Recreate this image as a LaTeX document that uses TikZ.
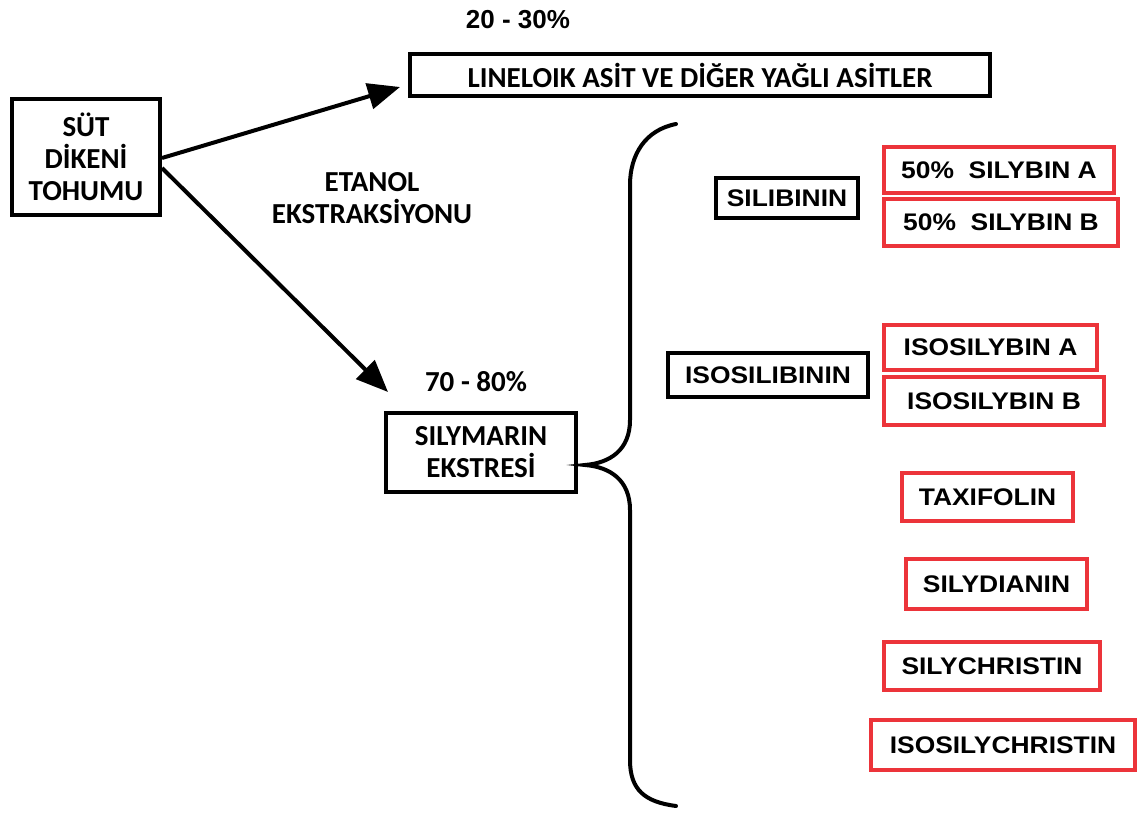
\documentclass[tikz,border=0pt]{standalone}
\usepackage{fontspec}
\usetikzlibrary{arrows.meta}
\newfontfamily\calfont{Carlito}
\newfontfamily\arifont[FakeStretch=1.1]{Liberation Sans}
\newfontfamily\arifontplain{Liberation Sans}
\definecolor{boxred}{RGB}{236,52,58}
\tikzset{
  cal/.style={font=\calfont\bfseries\fontsize{29}{32}\selectfont},
  ari/.style={font=\arifont\bfseries\fontsize{24}{28}\selectfont},
  blackbox/.style={draw=black, line width=4pt, inner sep=0pt, anchor=center},
  redbox/.style={draw=boxred, line width=4.5pt, inner sep=0pt, anchor=center, ari},
  arr/.style={line width=4pt, -{Triangle[length=32pt,width=26pt]}},
}
\begin{document}
\begin{tikzpicture}[x=1pt,y=-1pt]
\useasboundingbox (0,0) rectangle (1138,814);
% left part
\node[blackbox, cal, align=center, minimum width=148pt, minimum height=116pt] (sut) at (86,157) {SÜT\\DİKENİ\\TOHUMU};
\node[blackbox, cal, minimum width=580pt, minimum height=42pt] (lin) at (700,75) {LINELOIK ASİT VE DİĞER YAĞLI ASİTLER};
\node[font=\arifontplain\bfseries\fontsize{26}{30}\selectfont] (p1) at (518,20) {20 - 30\%};
\node[cal, align=center] (eta) at (372,198) {ETANOL\\EKSTRAKSİYONU};
\node[cal] (p2) at (476,382) {70 - 80\%};
\node[blackbox, cal, align=center, minimum width=190pt, minimum height=79pt] (sly) at (481,452.5) {SILYMARIN\\EKSTRESİ};
% arrows
\coordinate (t1) at (400,87);
\coordinate (t2) at (388,392);
\coordinate (s1) at (162,158);
\coordinate (s2) at (162,168);
\draw[arr] (s1) -- (t1);
\draw[arr] (s2) -- (t2);
% brace
\coordinate (btip) at (585,465);
\draw[line width=4pt, line cap=round] (676,124) .. controls (645,130) and (630,155) .. (630,185) -- (630,420) .. controls (630,450) and (610,463) .. (btip) .. controls (610,467) and (630,480) .. (630,510) -- (630,760) .. controls (630,790) and (645,802) .. (676,806);
% right part
\node[blackbox, ari, minimum width=142pt, minimum height=40pt] (slb) at (787,198) {SILIBININ};
\node[redbox, minimum width=230pt, minimum height=46pt] (sA) at (999,170) {50\%\ \ SILYBIN A};
\node[redbox, minimum width=234pt, minimum height=47pt] (sB) at (1001,222.5) {50\%\ \ SILYBIN B};
\node[blackbox, ari, minimum width=200pt, minimum height=44pt] (islb) at (768,375) {ISOSILIBININ};
\node[redbox, minimum width=213pt, minimum height=45pt] (iA) at (990.5,347.5) {ISOSILYBIN A};
\node[redbox, minimum width=220pt, minimum height=48pt] (iB) at (994,401) {ISOSILYBIN B};
\node[redbox, minimum width=171pt, minimum height=48pt] (tax) at (987.5,497) {TAXIFOLIN};
\node[redbox, minimum width=181pt, minimum height=50pt] (sdn) at (996.5,584) {SILYDIANIN};
\node[redbox, minimum width=216pt, minimum height=48pt] (sch) at (992,666) {SILYCHRISTIN};
\node[redbox, minimum width=264pt, minimum height=50pt] (isch) at (1003,745) {ISOSILYCHRISTIN};
\end{tikzpicture}
\end{document}
